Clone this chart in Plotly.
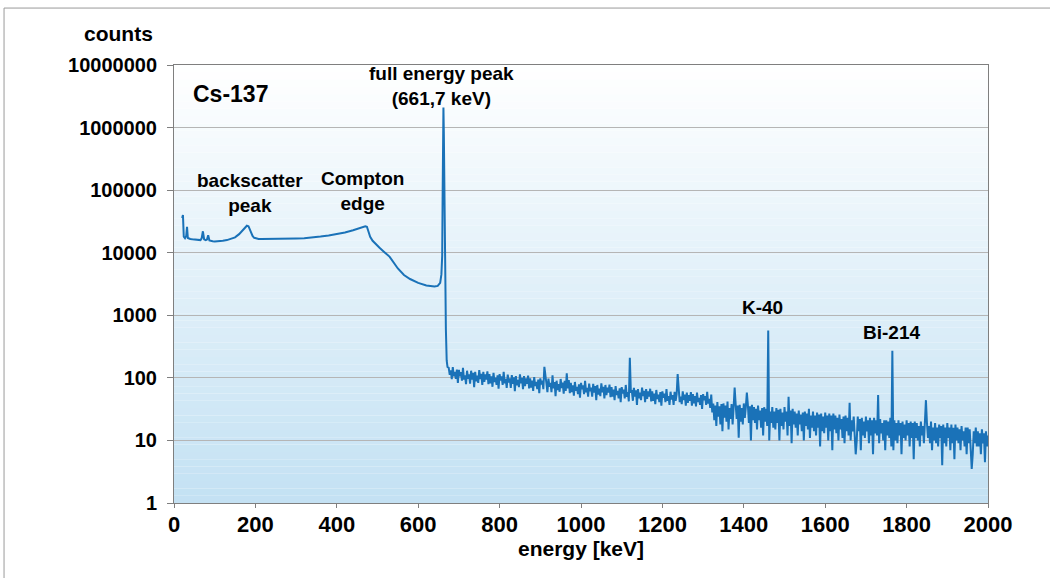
import plotly.graph_objects as go

# ---------------- data ----------------
# low-energy part of the Cs-137 spectrum (irregular energy points, keV)
energy_low = [20, 22, 24, 27, 30, 32, 34, 37, 40, 45, 50, 55, 60, 65, 68, 71, 74,
              78, 81, 84, 87, 90, 95, 100, 110, 120, 130, 140, 150, 160, 168, 174, 179, 183, 186,
              189, 193, 197, 202, 208, 215, 225, 240, 260, 280, 300, 320, 340, 360, 380, 400, 420,
              440, 455, 465, 470, 474, 478, 482, 488, 495, 505, 515, 530, 550, 565, 580, 600, 620,
              640, 648, 654, 657, 659, 660, 661, 662, 663, 664, 666, 668, 670, 672]
counts_low = [36000, 40000, 18000, 17000, 18500, 26000, 17200, 16800, 16600,
              16400, 16200, 16100, 16000, 15900, 17000, 22000, 16400, 15900, 16200, 19000, 15700, 15400,
              15200, 15100, 15200, 15500, 15900, 16600, 17600, 19800, 22500, 25500, 27000, 26500, 24000,
              21000, 18500, 17300, 16800, 16600, 16500, 16500, 16600, 16700, 16800, 16900, 17100, 17500,
              18100, 18900, 19900, 21100, 22900, 24400, 25700, 26400, 26000, 22000, 18000, 15500, 13800,
              12000, 10500, 8600, 5600, 4400, 3800, 3300, 3000, 2880, 2950, 3300, 4500, 9000, 80000,
              900000, 2100000, 800000, 90000, 5000, 600, 190, 150]

# high-energy tail: counts every 2.5 keV from 675 keV to 2000 keV
tail_start_kev = 675
tail_step_kev = 2.5
counts_tail = [
    145, 112, 132, 95, 148, 106, 125, 96, 136, 83, 134, 106, 123, 90, 144, 94, 110, 79, 130, 97,
    114, 81, 130, 94, 120, 71, 125, 88, 109, 83, 133, 96, 116, 77, 125, 86, 114, 94, 127, 79,
    115, 82, 106, 72, 120, 86, 101, 77, 110, 67, 115, 91, 106, 77, 125, 82, 96, 69, 113, 84,
    98, 69, 111, 80, 102, 61, 107, 76, 93, 71, 114, 82, 100, 66, 107, 74, 98, 80, 109, 68,
    98, 70, 90, 62, 103, 74, 86, 66, 94, 57, 98, 78, 90, 66, 150, 95, 82, 59, 97, 72,
    83, 59, 110, 68, 86, 51, 90, 64, 79, 60, 96, 69, 84, 56, 90, 62, 118, 68, 92, 57,
    83, 59, 76, 52, 86, 62, 72, 55, 79, 48, 83, 66, 76, 55, 90, 59, 69, 50, 81, 61,
    70, 50, 80, 58, 74, 44, 77, 54, 67, 51, 82, 59, 72, 47, 77, 53, 70, 58, 78, 49,
    71, 50, 65, 44, 74, 53, 62, 47, 68, 41, 71, 56, 65, 47, 77, 50, 59, 42, 210, 60,
    61, 43, 69, 50, 63, 37, 66, 47, 58, 44, 70, 51, 62, 41, 66, 46, 61, 50, 67, 42,
    61, 43, 56, 38, 64, 46, 54, 41, 59, 36, 61, 48, 56, 41, 66, 43, 51, 37, 60, 45,
    53, 37, 60, 43, 55, 115, 58, 41, 50, 38, 61, 44, 54, 36, 58, 40, 53, 43, 59, 36,
    55, 39, 51, 35, 58, 41, 48, 37, 53, 32, 55, 44, 51, 37, 60, 39, 46, 33, 54, 28,
    39, 21, 36, 17, 41, 24, 35, 18, 38, 14, 39, 23, 36, 20, 42, 15, 33, 22, 38, 18,
    34, 70, 38, 22, 36, 11, 37, 20, 33, 18, 39, 23, 34, 58, 37, 19, 35, 10, 37, 21,
    34, 19, 32, 15, 36, 21, 30, 16, 33, 12, 34, 20, 32, 17, 570, 10, 29, 19, 34, 16,
    29, 15, 33, 19, 31, 10, 32, 17, 28, 15, 34, 20, 29, 12, 50, 17, 30, 9, 32, 18,
    29, 16, 27, 12, 30, 18, 26, 14, 28, 10, 29, 17, 27, 15, 32, 11, 25, 16, 29, 14,
    25, 12, 28, 16, 26, 8, 27, 14, 24, 13, 28, 16, 25, 10, 27, 14, 25, 7, 27, 15,
    25, 13, 23, 10, 26, 15, 22, 11, 24, 9, 25, 14, 23, 12, 40, 10, 21, 14, 24, 11,
    6, 10, 24, 14, 22, 7, 23, 12, 20, 11, 24, 14, 21, 9, 23, 12, 21, 6, 23, 13,
    21, 12, 53, 9, 22, 13, 19, 10, 21, 7, 21, 12, 20, 11, 23, 8, 270, 7, 21, 10,
    19, 9, 21, 12, 19, 6, 20, 11, 18, 10, 21, 12, 19, 8, 20, 11, 19, 5, 20, 11,
    19, 10, 17, 8, 20, 12, 17, 9, 18, 44, 19, 11, 17, 9, 20, 7, 16, 10, 19, 9,
    16, 8, 18, 11, 17, 4, 18, 9, 16, 8, 19, 11, 16, 7, 18, 9, 16, 5, 18, 10,
    16, 9, 15, 7, 17, 10, 14, 8, 16, 6, 16, 9, 15, 8, 3.5, 6, 14, 9, 16, 8,
    14, 8, 13, 6, 15, 9, 13, 4.5, 14, 8, 12,
]

x_ticks = [0, 200, 400, 600, 800, 1000, 1200, 1400, 1600, 1800, 2000]
y_ticks = [1, 10, 100, 1000, 10000, 100000, 1000000, 10000000]
y_tick_text = [str(v) for v in y_ticks]

energy_tail = [tail_start_kev + i * tail_step_kev for i in range(len(counts_tail))]
energy = energy_low + energy_tail
counts = counts_low + counts_tail

# ---------------- figure ----------------
LINE = "#1a72b8"
BOLD = "Liberation Sans, Arial, sans-serif"

fig = go.Figure()
fig.add_trace(go.Scatter(x=energy, y=counts, mode="lines",
                         line=dict(color=LINE, width=2), hoverinfo="skip", showlegend=False))

# background gradient (white at top -> light blue at bottom)
n = 60
top = (255, 255, 255)
bot = (195, 225, 243)
shapes = []
for i in range(n):
    t = (i + 0.5) / n  # 0 bottom .. 1 top
    c = tuple(int(round(bot[k] + (top[k] - bot[k]) * t)) for k in range(3))
    shapes.append(dict(type="rect", xref="paper", yref="paper", x0=0, x1=1,
                       y0=i / n, y1=(i + 1) / n, fillcolor="rgb(%d,%d,%d)" % c,
                       line=dict(width=0), layer="below"))
# outer frame of the figure
shapes.append(dict(type="rect", xref="paper", yref="paper", x0=-0.2088, x1=1.1,
                   y0=-0.2, y1=1.130, line=dict(color="#9a9a9a", width=1),
                   fillcolor="rgba(0,0,0,0)", layer="below"))

ann_font = dict(family=BOLD, size=19, color="black")
annotations = [
    dict(x=42, y=6.54, text="<b>Cs-137</b>", xanchor="left", yanchor="middle",
         font=dict(family=BOLD, size=23, color="black")),
    dict(x=187, y=4.95, text="<b>backscatter<br>peak</b>", font=ann_font),
    dict(x=462, y=4.99, text="<b>Compton<br>edge</b>", font=ann_font),
    dict(x=658, y=6.66, text="<b>full energy peak<br>(661,7 keV)</b>", font=ann_font),
    dict(x=1447, y=3.13, text="<b>K-40</b>", font=ann_font),
    dict(x=1764, y=2.72, text="<b>Bi-214</b>", font=ann_font),
    dict(x=-0.0233, y=1.073, xref="paper", yref="paper", text="<b>counts</b>",
         xanchor="right", yanchor="middle", font=dict(family=BOLD, size=21, color="black")),
]
for a in annotations:
    a.setdefault("showarrow", False)
    a.setdefault("xanchor", "center")
    a.setdefault("yanchor", "middle")

fig.update_layout(
    width=1050, height=578,
    margin=dict(l=174, r=62, t=65, b=75),
    paper_bgcolor="white", plot_bgcolor="white",
    shapes=shapes, annotations=annotations,
    xaxis=dict(range=[0, 2000], tickvals=x_ticks, ticktext=["<b>%d</b>" % v for v in x_ticks],
               tickfont=dict(family=BOLD, size=22, color="black"),
               showgrid=False, zeroline=False, showline=True, linecolor="#7f7f7f", linewidth=1,
               mirror=True, ticks="outside", ticklen=4, tickcolor="#7f7f7f", ticklabelstandoff=-2,
               title=dict(text="<b>energy [keV]</b>", font=dict(family=BOLD, size=21, color="black"),
                          standoff=2)),
    yaxis=dict(type="log", range=[0, 7], tickvals=y_ticks,
               ticktext=["<b>%s</b>" % s for s in y_tick_text],
               tickfont=dict(family=BOLD, size=20, color="black"),
               showgrid=True, gridcolor="#b5b5b5", gridwidth=1, zeroline=False,
               showline=True, linecolor="#7f7f7f", linewidth=1, mirror=True,
               ticks="outside", ticklen=6, tickcolor="#7f7f7f", ticklabelstandoff=6),
)

fig.write_html("out.html", config={"displayModeBar": False},
               post_script="document.body.style.margin='0';")
